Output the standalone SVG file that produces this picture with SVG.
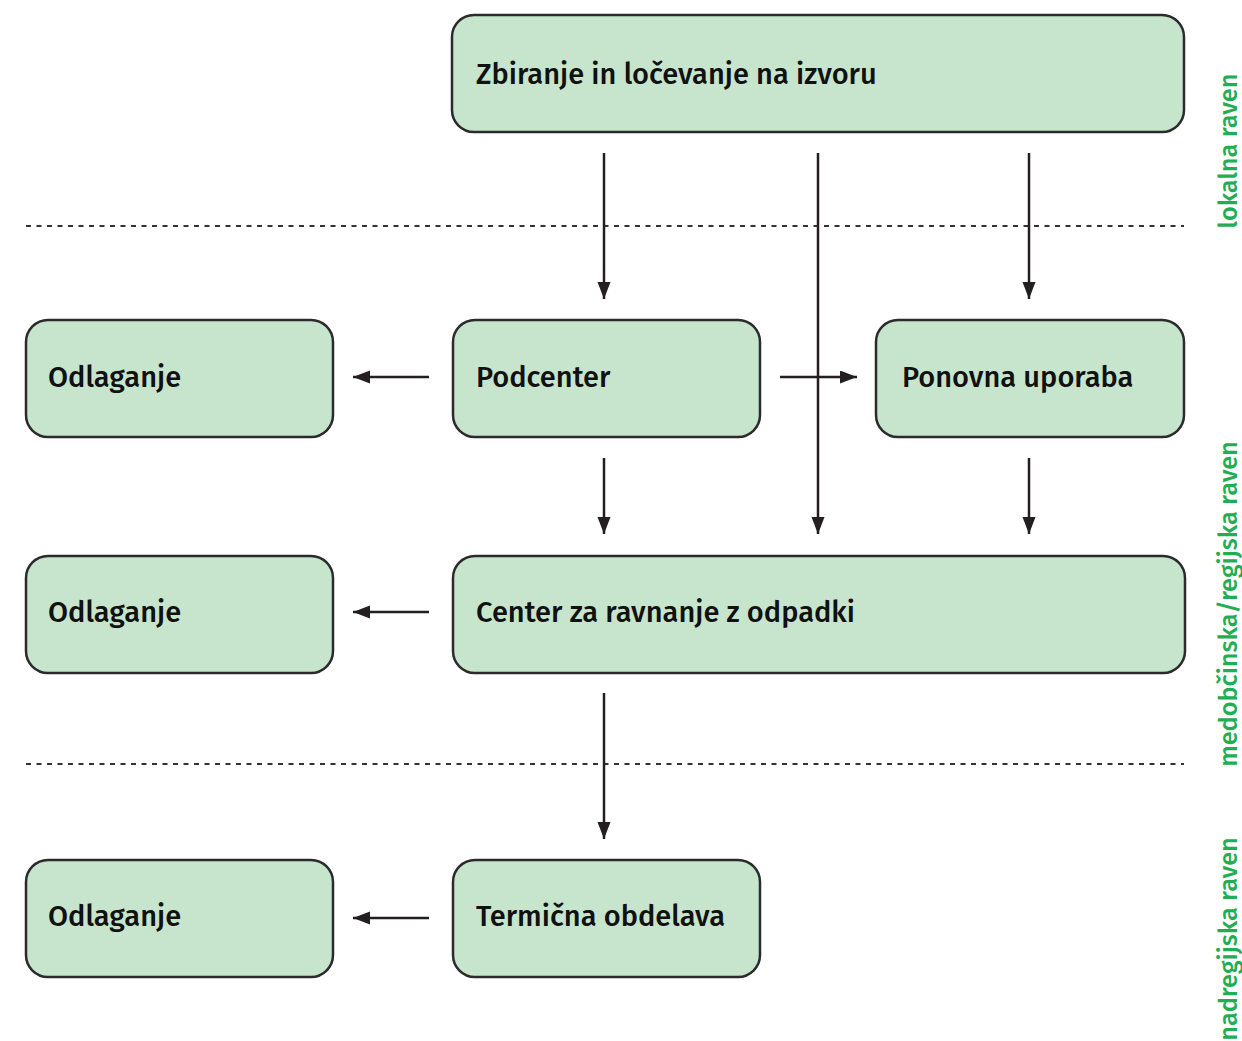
<svg xmlns="http://www.w3.org/2000/svg" width="1242" height="1041" viewBox="0 0 1242 1041">
<defs>
<marker id="ah" markerUnits="userSpaceOnUse" markerWidth="18" markerHeight="14" refX="17" refY="6.5" orient="auto">
<path d="M0,0 L17,6.5 L0,13 Z" fill="#231f20"/>
</marker>
<style>
.box{fill:#c6e5cc;stroke:#2b2b2b;stroke-width:2.5}
.lbl{font-family:"Fira Sans","Noto Sans","Open Sans",sans-serif;font-weight:500;font-size:29px;fill:#111}
.con{stroke:#231f20;stroke-width:2.5;fill:none;marker-end:url(#ah)}
.dash{stroke:#333;stroke-width:2;stroke-dasharray:5 5.5;fill:none}
.lvl{font-family:"Fira Sans","Noto Sans","Open Sans",sans-serif;font-weight:500;font-size:25.3px;fill:#1fae54}
</style>
</defs>
<rect width="1242" height="1041" fill="#fff"/>
<g id="levels">
<line class="dash" x1="26" y1="226" x2="1184" y2="226"/>
<line class="dash" x1="26" y1="764" x2="1184" y2="764"/>
<text class="lvl" transform="translate(1237,151) rotate(-90)" text-anchor="middle">lokalna raven</text>
<text class="lvl" transform="translate(1237,604) rotate(-90)" text-anchor="middle">medobčinska/regijska raven</text>
<text class="lvl" transform="translate(1237,939) rotate(-90)" text-anchor="middle">nadregijska raven</text>
</g>
<g id="connectors">
<line class="con" x1="604" y1="153" x2="604" y2="299"/>
<line class="con" x1="818" y1="153" x2="818" y2="534"/>
<line class="con" x1="1029" y1="153" x2="1029" y2="299"/>
<line class="con" x1="429" y1="377" x2="353" y2="377"/>
<line class="con" x1="780" y1="377" x2="857" y2="377"/>
<line class="con" x1="604" y1="458" x2="604" y2="534"/>
<line class="con" x1="1029" y1="458" x2="1029" y2="534"/>
<line class="con" x1="429" y1="612" x2="353" y2="612"/>
<line class="con" x1="604" y1="693" x2="604" y2="839"/>
<line class="con" x1="429" y1="918" x2="353" y2="918"/>
</g>
<g id="n-zbiranje"><rect class="box" x="452" y="15" width="732" height="117" rx="22"/><text class="lbl" x="476" y="84">Zbiranje in ločevanje na izvoru</text></g>
<g id="n-odlaganje1"><rect class="box" x="26" y="320" width="307" height="117" rx="22"/><text class="lbl" x="48" y="387">Odlaganje</text></g>
<g id="n-podcenter"><rect class="box" x="453" y="320" width="307" height="117" rx="22"/><text class="lbl" x="476" y="387">Podcenter</text></g>
<g id="n-ponovna"><rect class="box" x="876" y="320" width="308" height="117" rx="22"/><text class="lbl" x="902" y="387">Ponovna uporaba</text></g>
<g id="n-odlaganje2"><rect class="box" x="26" y="556" width="307" height="117" rx="22"/><text class="lbl" x="48" y="622">Odlaganje</text></g>
<g id="n-center"><rect class="box" x="453" y="556" width="732" height="117" rx="22"/><text class="lbl" x="476" y="622">Center za ravnanje z odpadki</text></g>
<g id="n-odlaganje3"><rect class="box" x="26" y="860" width="307" height="117" rx="22"/><text class="lbl" x="48" y="926">Odlaganje</text></g>
<g id="n-termicna"><rect class="box" x="453" y="860" width="307" height="117" rx="22"/><text class="lbl" x="476" y="926">Termična obdelava</text></g>
</svg>
